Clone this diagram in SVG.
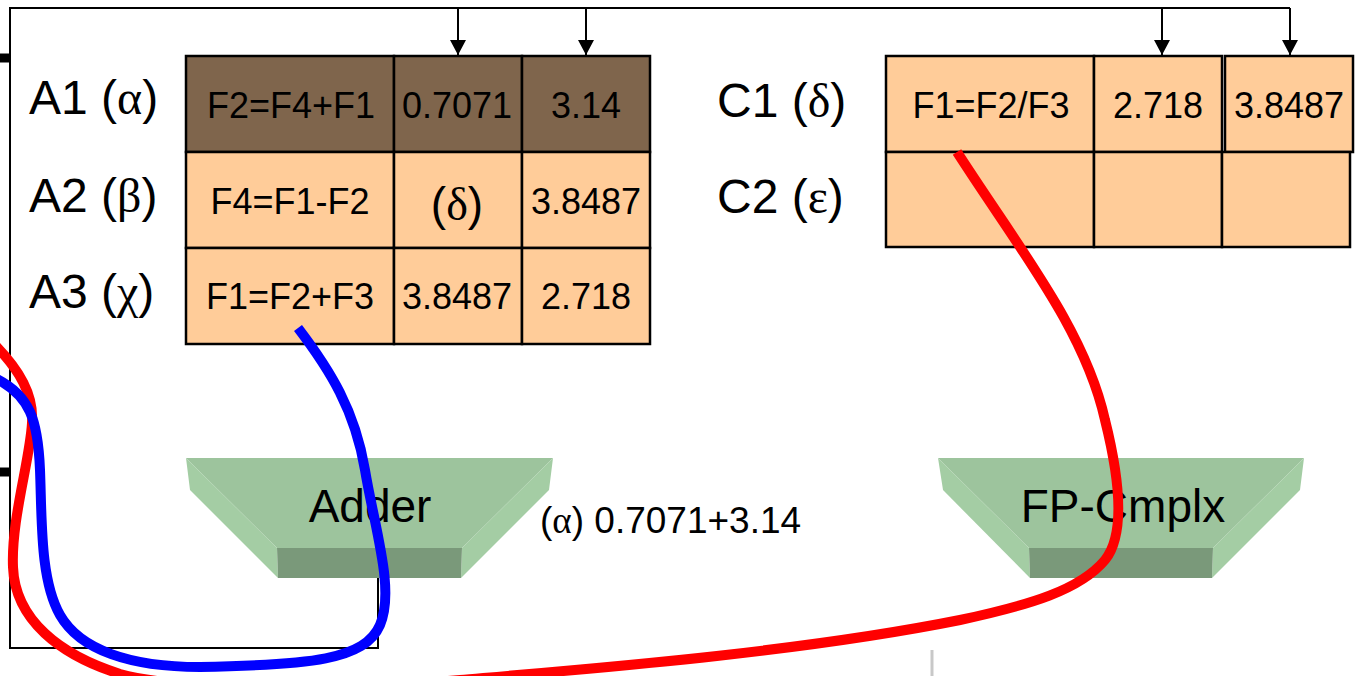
<svg xmlns="http://www.w3.org/2000/svg" width="1357" height="676" viewBox="0 0 1357 676">
<style>
.t{font-family:"Liberation Sans",Arial,sans-serif;fill:#000}
.g{font-family:"Liberation Serif","Times New Roman",serif}
.cell{stroke:#000;stroke-width:2.5}
.br{fill:#7F654C}
.or{fill:#FFCC99}
.line{fill:none;stroke:#000;stroke-width:2}
.face{fill:#9DC49D}
.bev{fill:#A4CDA4}
.bot{fill:#7A997A}
</style>
<defs>
<marker id="ah" markerWidth="16" markerHeight="16" refX="15" refY="8" orient="auto" markerUnits="userSpaceOnUse" viewBox="0 0 16 16">
<path d="M0,0 L15,8 L0,16 Z" fill="#000"/>
</marker>
</defs>
<rect width="1357" height="676" fill="#fff"/>

<g id="frame">
<polyline class="line" points="378,555 378,648 10,648 10,8 1290,8"/>
<line x1="0" y1="58" x2="10" y2="58" stroke="#000" stroke-width="9"/>
<line x1="0" y1="472" x2="10" y2="472" stroke="#000" stroke-width="9"/>
</g>

<g id="connectors">
<line class="line" x1="458" y1="8" x2="458" y2="55" marker-end="url(#ah)"/>
<line class="line" x1="586" y1="8" x2="586" y2="55" marker-end="url(#ah)"/>
<line class="line" x1="1162" y1="8" x2="1162" y2="55" marker-end="url(#ah)"/>
<line class="line" x1="1290" y1="8" x2="1290" y2="55" marker-end="url(#ah)"/>
</g>

<g id="tableA">
<rect class="cell br" x="186" y="56" width="208" height="96"/>
<rect class="cell br" x="394" y="56" width="128" height="96"/>
<rect class="cell br" x="522" y="56" width="128" height="96"/>
<rect class="cell or" x="186" y="152" width="208" height="96"/>
<rect class="cell or" x="394" y="152" width="128" height="96"/>
<rect class="cell or" x="522" y="152" width="128" height="96"/>
<rect class="cell or" x="186" y="248" width="208" height="96"/>
<rect class="cell or" x="394" y="248" width="128" height="96"/>
<rect class="cell or" x="522" y="248" width="128" height="96"/>
<g class="t" font-size="36" text-anchor="middle">
<text x="291" y="118">F2=F4+F1</text>
<text x="457" y="118">0.7071</text>
<text x="586" y="118">3.14</text>
<text x="290" y="214">F4=F1-F2</text>
<text x="457" y="220" font-size="46">(<tspan class="g">δ</tspan>)</text>
<text x="586" y="214">3.8487</text>
<text x="290" y="309">F1=F2+F3</text>
<text x="457" y="309">3.8487</text>
<text x="586" y="309">2.718</text>
</g>
</g>

<g id="labelsA" class="t" font-size="48">
<text x="29" y="114">A1 (<tspan class="g">α</tspan>)</text>
<text x="29" y="212">A2 (<tspan class="g">β</tspan>)</text>
<text x="29" y="308">A3 (<tspan class="g">χ</tspan>)</text>
</g>

<g id="tableC">
<rect class="cell or" x="886" y="56" width="208" height="96"/>
<rect class="cell or" x="1094" y="56" width="128" height="96"/>
<rect class="cell or" x="1225" y="56" width="128" height="96"/>
<rect class="cell or" x="886" y="152" width="208" height="95"/>
<rect class="cell or" x="1094" y="152" width="128" height="95"/>
<rect class="cell or" x="1222" y="152" width="128" height="95"/>
<g class="t" font-size="36" text-anchor="middle">
<text x="991" y="118">F1=F2/F3</text>
<text x="1158" y="118">2.718</text>
<text x="1289" y="118">3.8487</text>
</g>
</g>

<g id="labelsC" class="t" font-size="48">
<text x="717" y="117">C1 (<tspan class="g">δ</tspan>)</text>
<text x="717" y="213">C2 (<tspan class="g">ε</tspan>)</text>
</g>

<g id="adder">
<polygon class="face" points="186,458 553,458 462,548 277,548"/>
<polygon class="bev" points="186,458 277,548 278,578 190,490"/>
<polygon class="bev" points="553,458 549,490 461,578 462,548"/>
<polygon class="bot" points="277,548 462,548 461,578 278,578"/>
<text class="t" x="370" y="522" font-size="46" text-anchor="middle">Adder</text>
</g>

<g id="fpcmplx">
<polygon class="face" points="938,458 1304,458 1213,548 1029,548"/>
<polygon class="bev" points="938,458 1029,548 1030,578 943,490"/>
<polygon class="bev" points="1304,458 1300,490 1212,578 1213,548"/>
<polygon class="bot" points="1029,548 1213,548 1212,578 1030,578"/>
<text class="t" x="1123" y="522" font-size="46" text-anchor="middle">FP-Cmplx</text>
</g>

<g id="note">
<text class="t" x="540" y="533" font-size="37">(<tspan class="g">α</tspan>) 0.7071+3.14</text>
</g>

<g id="stray">
<line x1="932" y1="650" x2="932" y2="676" stroke="#c8c8c8" stroke-width="3"/>
</g>

<g id="annotations" fill="none" stroke-width="10" stroke-linecap="butt">
<path stroke="#FF0000" d="M957,152 C1020,250 1085,330 1105,420 C1120,480 1125,535 1105,560 C1080,590 1030,605 960,620 C800,652 600,668 460,680 C320,692 180,690 120,674 C60,655 15,620 13,567 C11,520 30,460 32,423 C34,395 20,370 -8,342"/>
<path stroke="#0000FF" d="M298,328 C330,370 355,410 365,470 C375,530 395,590 380,625 C365,660 310,665 200,667 C130,667 80,650 60,615 C40,580 42,520 40,470 C38,420 30,395 -5,378"/>
</g>
</svg>
